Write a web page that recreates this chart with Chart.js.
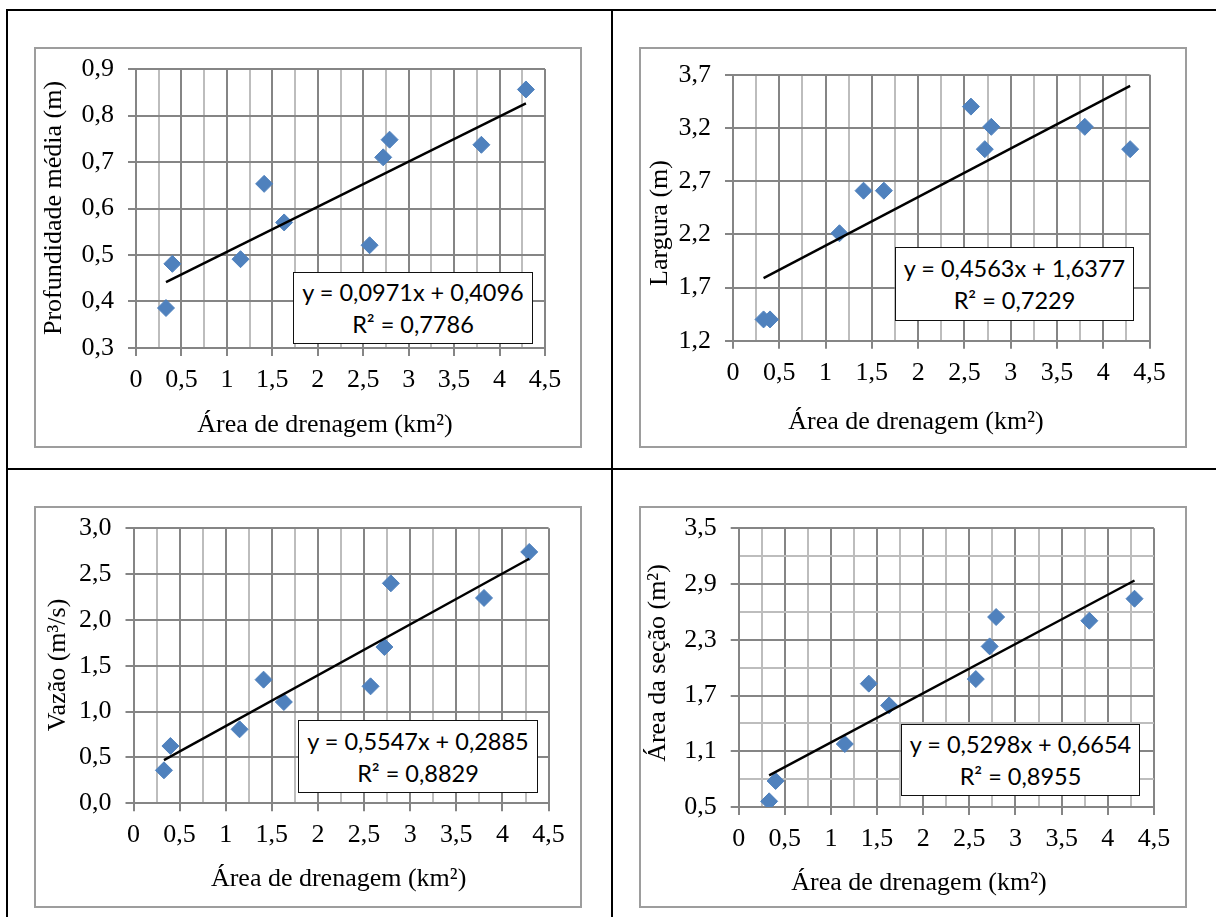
<!DOCTYPE html>
<html>
<head>
<meta charset="utf-8">
<script src="https://cdn.jsdelivr.net/npm/chart.js@4.4.1/dist/chart.umd.min.js"></script>
<style>
  html, body { margin: 0; padding: 0; background: #ffffff; }
  body { width: 1216px; height: 917px; position: relative; overflow: hidden; }
  .rule { position: absolute; background: #000; }
  .frame { position: absolute; box-sizing: border-box; border: 2px solid #9d9d9d; pointer-events: none; }
  canvas.chart { position: absolute; }
  .eq { position: absolute; box-sizing: border-box; border: 1.5px solid #111; background: #fff;
        font-family: Lato, "Open Sans", sans-serif; font-size: 23.5px; line-height: 32px; color: #000;
        text-align: center; display: flex; flex-direction: column; justify-content: center; white-space: nowrap; }
</style>
</head>
<body>
<div class="rule" style="left:6px; top:9px; width:1210px; height:2px;"></div>
<div class="rule" style="left:6px; top:9px; width:2px; height:908px;"></div>
<div class="rule" style="left:611px; top:9px; width:2px; height:908px;"></div>
<div class="rule" style="left:6px; top:468px; width:1210px; height:2px;"></div>

<canvas id="c1" class="chart" width="548" height="401" style="left:34px; top:47px;"></canvas>
<canvas id="c2" class="chart" width="548" height="401" style="left:639px; top:47px;"></canvas>
<canvas id="c3" class="chart" width="548" height="402" style="left:34px; top:506px;"></canvas>
<canvas id="c4" class="chart" width="548" height="402" style="left:639px; top:506px;"></canvas>

<div class="frame" style="left:34px; top:47px; width:548px; height:401px;"></div>
<div class="frame" style="left:639px; top:47px; width:548px; height:401px;"></div>
<div class="frame" style="left:34px; top:506px; width:548px; height:402px;"></div>
<div class="frame" style="left:639px; top:506px; width:548px; height:402px;"></div>

<div id="eq1" class="eq" style="left:293px; top:272px; width:240px; height:72px;"></div>
<div id="eq2" class="eq" style="left:895px; top:247px; width:239px; height:74px;"></div>
<div id="eq3" class="eq" style="left:298px; top:720px; width:240px; height:73px;"></div>
<div id="eq4" class="eq" style="left:901px; top:724px; width:239px; height:72px;"></div>

<script>
// ---------------- DATA ----------------
const areaDrenagem = [0.33, 0.40, 1.15, 1.41, 1.63, 2.57, 2.72, 2.79, 3.80, 4.29];
const profundidade = [0.386, 0.481, 0.491, 0.653, 0.570, 0.521, 0.710, 0.748, 0.737, 0.856];
const largura      = [1.40, 1.40, 2.21, 2.61, 2.61, 3.40, 3.00, 3.21, 3.21, 3.00];
const vazao        = [0.36, 0.625, 0.807, 1.349, 1.105, 1.276, 1.705, 2.40, 2.24, 2.742];
const areaSecao    = [0.561, 0.780, 1.178, 1.828, 1.594, 1.877, 2.229, 2.545, 2.505, 2.742];

const eqSlope     = [0.0971, 0.4563, 0.5547, 0.5298];
const eqIntercept = [0.4096, 1.6377, 0.2885, 0.6654];
const eqR2        = [0.7786, 0.7229, 0.8829, 0.8955];

const xTickValues = [0, 0.5, 1, 1.5, 2, 2.5, 3, 3.5, 4, 4.5];
const xTickLabels = ['0', '0,5', '1', '1,5', '2', '2,5', '3', '3,5', '4', '4,5'];

const yTickValues1 = [0.3, 0.4, 0.5, 0.6, 0.7, 0.8, 0.9];
const yTickLabels1 = ['0,3', '0,4', '0,5', '0,6', '0,7', '0,8', '0,9'];
const yTickValues2 = [1.2, 1.7, 2.2, 2.7, 3.2, 3.7];
const yTickLabels2 = ['1,2', '1,7', '2,2', '2,7', '3,2', '3,7'];
const yTickValues3 = [0, 0.5, 1.0, 1.5, 2.0, 2.5, 3.0];
const yTickLabels3 = ['0,0', '0,5', '1,0', '1,5', '2,0', '2,5', '3,0'];
const yTickValues4 = [0.5, 1.1, 1.7, 2.3, 2.9, 3.5];
const yTickLabels4 = ['0,5', '1,1', '1,7', '2,3', '2,9', '3,5'];

const xTitle = 'Área de drenagem (km²)';
const yTitles = ['Profundidade média (m)', 'Largura (m)', 'Vazão (m³/s)', 'Área da seção (m²)'];

// ---------------- STYLE / LAYOUT ----------------
const MAJOR = '#858585';
const MINOR = '#bdbdbd';
const POINT = '#4f81bd';

const layouts = [
  { plot: {L: 102,  R: 511,   T: 22,   B: 301},   xT: [291, 378],   yT: [20.5, 161] },
  { plot: {L: 94,   R: 510.6, T: 27.7, B: 293.7}, xT: [277, 374.7], yT: [21.5, 176] },
  { plot: {L: 99.5, R: 514.6, T: 22.3, B: 297.3}, xT: [304.6, 372.7], yT: [24, 159] },
  { plot: {L: 99.7, R: 514.9, T: 22.3, B: 301},   xT: [280, 376.7], yT: [19.5, 157] }
];

function buildTicks(values, withMinor) {
  const out = [];
  values.forEach((v, i) => {
    out.push({ value: v, isMinor: false });
    if (withMinor && i < values.length - 1) out.push({ value: (v + values[i + 1]) / 2, isMinor: true });
  });
  return out;
}
function labelLookup(values, labels) {
  return (v) => {
    const i = values.findIndex(t => Math.abs(t - v) < 1e-9);
    return i >= 0 ? labels[i] : '';
  };
}
const fmt = (n) => n.toFixed(4).replace('.', ',');

const axisTitles = {
  id: 'axisTitles',
  afterDraw(chart, args, opts) {
    const ctx = chart.ctx;
    ctx.save();
    ctx.fillStyle = '#000';
    ctx.font = '26px "Liberation Serif", "Times New Roman", serif';
    ctx.textAlign = 'center';
    ctx.textBaseline = 'middle';
    ctx.fillText(opts.xText, opts.xPos[0], opts.xPos[1]);
    ctx.translate(opts.yPos[0], opts.yPos[1]);
    ctx.rotate(-Math.PI / 2);
    ctx.fillText(opts.yText, 0, 0);
    ctx.restore();
  }
};

function gridOpts() {
  return {
    color: (c) => (c.tick && c.tick.isMinor) ? MINOR : MAJOR,
    tickColor: (c) => (c.tick && c.tick.isMinor) ? 'rgba(0,0,0,0)' : MAJOR,
    lineWidth: 2,
    tickWidth: 2,
    tickLength: 8,
    drawTicks: true
  };
}

function makeChart(id, k, yValues, yLabels, yMinor, series) {
  const canvas = document.getElementById(id);
  const W = canvas.width, H = canvas.height;
  const lay = layouts[k];
  const p = lay.plot;
  const xs = areaDrenagem;
  const xMin = Math.min(...xs), xMax = Math.max(...xs);
  const trend = [
    { x: xMin, y: eqSlope[k] * xMin + eqIntercept[k] },
    { x: xMax, y: eqSlope[k] * xMax + eqIntercept[k] }
  ];
  const pts = xs.map((x, i) => ({ x: x, y: series[i] }));
  const tickFont = { family: '"Liberation Serif", "Times New Roman", serif', size: 26 };

  new Chart(canvas, {
    type: 'scatter',
    data: {
      datasets: [
        { label: 'dados', data: pts, order: 2, pointStyle: 'rectRot', pointRadius: 8.5, pointHoverRadius: 8.5,
          backgroundColor: POINT, borderColor: POINT, borderWidth: 1, showLine: false },
        { label: 'tendência', data: trend, order: 1, showLine: true, pointRadius: 0, pointHoverRadius: 0,
          borderColor: '#000', borderWidth: 2.4, fill: false }
      ]
    },
    options: {
      responsive: false,
      animation: false,
      events: [],
      layout: { padding: { left: 0, top: p.T, right: W - p.R, bottom: 0 } },
      plugins: {
        legend: { display: false },
        tooltip: { enabled: false },
        axisTitles: { xText: xTitle, yText: yTitles[k], xPos: lay.xT, yPos: lay.yT }
      },
      scales: {
        x: {
          type: 'linear', position: 'bottom',
          min: xTickValues[0], max: xTickValues[xTickValues.length - 1],
          afterBuildTicks: (s) => { s.ticks = buildTicks(xTickValues, true); },
          afterFit: (s) => { s.height = H - p.B; s.paddingLeft = 0; s.paddingRight = 0; },
          grid: gridOpts(),
          border: { display: true, color: MAJOR, width: 2 },
          ticks: { callback: labelLookup(xTickValues, xTickLabels), autoSkip: false, maxRotation: 0, minRotation: 0,
                   padding: 8.4, font: tickFont, color: '#000' }
        },
        y: {
          type: 'linear', position: 'left',
          min: yValues[0], max: yValues[yValues.length - 1],
          afterBuildTicks: (s) => { s.ticks = buildTicks(yValues, yMinor); },
          afterFit: (s) => { s.width = p.L; s.paddingTop = 0; s.paddingBottom = 0; },
          grid: gridOpts(),
          border: { display: true, color: MAJOR, width: 2 },
          ticks: { callback: labelLookup(yValues, yLabels), autoSkip: false, padding: 14, font: tickFont, color: '#000' }
        }
      }
    },
    plugins: [axisTitles]
  });

  document.getElementById('eq' + (k + 1)).innerHTML =
    '<div>y = ' + fmt(eqSlope[k]) + 'x + ' + fmt(eqIntercept[k]) + '</div><div>R² = ' + fmt(eqR2[k]) + '</div>';
}

makeChart('c1', 0, yTickValues1, yTickLabels1, false, profundidade);
makeChart('c2', 1, yTickValues2, yTickLabels2, false, largura);
makeChart('c3', 2, yTickValues3, yTickLabels3, false, vazao);
makeChart('c4', 3, yTickValues4, yTickLabels4, true, areaSecao);
</script>
</body>
</html>
